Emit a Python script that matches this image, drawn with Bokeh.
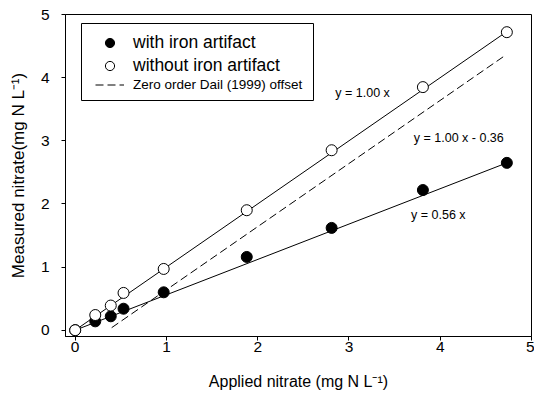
from bokeh.plotting import figure
from bokeh.models import Range1d, FixedTicker, Legend, LegendItem, Label, BoxAnnotation
from bokeh.embed import file_html
from bokeh.resources import INLINE

# ---- data ----
applied_open = [0.0, 0.22, 0.39, 0.53, 0.97, 1.88, 2.81, 3.81, 4.73]
measured_open = [0.0, 0.24, 0.39, 0.59, 0.97, 1.90, 2.85, 3.85, 4.72]
applied_filled = [0.0, 0.22, 0.39, 0.53, 0.97, 1.88, 2.81, 3.81, 4.73]
measured_filled = [0.0, 0.14, 0.22, 0.34, 0.60, 1.16, 1.62, 2.22, 2.65]
fit_x = [0.0, 4.73]
fit_open_y = [0.0, 4.73]
fit_filled_y = [0.0, 2.65]
dail_x = [0.40, 4.72]
dail_y = [0.04, 4.36]
x_ticks = [0, 1, 2, 3, 4, 5]
y_ticks = [0, 1, 2, 3, 4, 5]
series_labels = ["with iron artifact", "without iron artifact", "Zero order Dail (1999) offset"]
eq_texts = ["y = 1.00 x", "y = 1.00 x - 0.36", "y = 0.56 x"]

FONT = "Liberation Sans"

p = figure(width=534, height=396,
           x_range=Range1d(-0.106, 5.0), y_range=Range1d(-0.1, 5.0),
           output_backend="svg", toolbar_location=None,
           min_border_left=65, min_border_right=3, min_border_top=14, min_border_bottom=60)

p.xgrid.visible = False
p.ygrid.visible = False
p.outline_line_color = "black"
p.outline_line_alpha = 1
p.outline_line_width = 1
p.background_fill_color = "white"
p.border_fill_color = "white"

for ax in (p.xaxis[0], p.yaxis[0]):
    ax.minor_tick_line_color = None
    ax.major_tick_out = 4
    ax.major_tick_in = 0
    ax.axis_line_color = "black"
    ax.major_tick_line_color = "black"
    ax.major_label_text_font = FONT
    ax.major_label_text_font_size = "15.5px"
    ax.major_label_text_color = "black"
    ax.axis_label_text_font = FONT
    ax.axis_label_text_font_style = "normal"
    ax.axis_label_text_color = "black"

p.xaxis[0].ticker = FixedTicker(ticks=x_ticks)
p.yaxis[0].ticker = FixedTicker(ticks=y_ticks)
p.xaxis[0].major_label_standoff = 1
p.yaxis[0].major_label_standoff = 12
p.xaxis[0].axis_label = "Applied nitrate (mg N L\u207b\u00b9)"
p.yaxis[0].axis_label = "Measured nitrate(mg N L\u207b\u00b9)"
p.xaxis[0].axis_label_text_font_size = "16px"
p.yaxis[0].axis_label_text_font_size = "17px"
p.xaxis[0].axis_label_standoff = 18
p.yaxis[0].axis_label_standoff = 10

# lines
p.line(fit_x, fit_open_y, line_color="black", line_width=1)
p.line(fit_x, fit_filled_y, line_color="black", line_width=1)
r_dail = p.line(dail_x, dail_y, line_color="black", line_width=1, line_dash="8 4")

# points
r_filled = p.scatter(applied_filled, measured_filled, marker="circle", size=11,
                     fill_color="black", line_color="black", line_width=1)
r_open = p.scatter(applied_open, measured_open, marker="circle", size=11,
                   fill_color="white", line_color="black", line_width=1)

# equation labels
eq_pos = [(2.85, 3.76), (3.71, 3.04), (3.68, 1.82)]
for t, (ex, ey) in zip(eq_texts, eq_pos):
    p.add_layout(Label(x=ex, y=ey, text=t, text_font=FONT, text_font_size="12.5px",
                       text_baseline="middle", text_align="left", text_color="black"))

# legend frame
p.add_layout(BoxAnnotation(left=16, right=248, top=313, bottom=236,
                           left_units="screen", right_units="screen",
                           top_units="screen", bottom_units="screen",
                           fill_color=None, fill_alpha=0, line_color="black",
                           line_alpha=1, line_width=1))

leg1 = Legend(items=[LegendItem(label=series_labels[0], renderers=[r_filled]),
                     LegendItem(label=series_labels[1], renderers=[r_open])],
              location=(30, 259), padding=0, margin=0, spacing=0,
              glyph_width=29, glyph_height=23, label_height=23, label_standoff=9,
              label_text_font=FONT, label_text_font_size="17.5px", label_text_color="black",
              border_line_color=None, background_fill_alpha=0)
leg2 = Legend(items=[LegendItem(label=series_labels[2], renderers=[r_dail])],
              location=(30, 240), padding=0, margin=0, spacing=0,
              glyph_width=29, glyph_height=23, label_height=23, label_standoff=9,
              label_text_font=FONT, label_text_font_size="13.5px", label_text_color="black",
              border_line_color=None, background_fill_alpha=0)
p.add_layout(leg1)
p.add_layout(leg2)

open("out.html", "w").write(file_html(p, INLINE))
